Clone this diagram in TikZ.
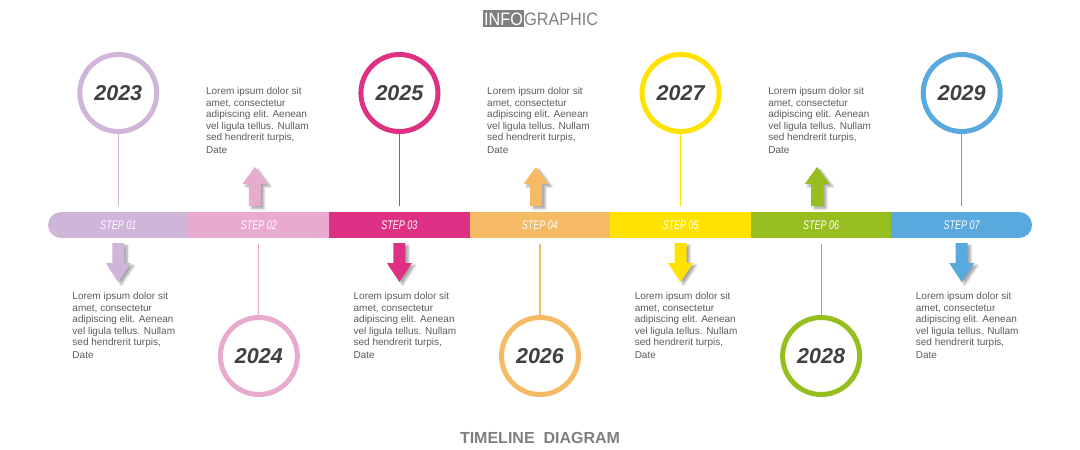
\documentclass[tikz,border=0pt]{standalone}
\usepackage{fontspec}
\setmainfont{Liberation Sans}
\newfontfamily\stepfont[FakeStretch=0.72]{Liberation Sans}
\newfontfamily\headfont[FakeStretch=0.9]{Liberation Sans}
\usetikzlibrary{shadows.blur}
\definecolor{c1}{HTML}{CFB6D9}
\definecolor{c2}{HTML}{E8AACF}
\definecolor{c3}{HTML}{DF3184}
\definecolor{c4}{HTML}{F5BA63}
\definecolor{c5}{HTML}{FFE200}
\definecolor{c6}{HTML}{97BE1F}
\definecolor{c7}{HTML}{59A9DF}
\definecolor{txtgray}{HTML}{5B5B5B}
\definecolor{yeargray}{HTML}{404040}
\definecolor{headgray}{HTML}{7F7F7F}
\newcommand\loremtext{Lorem ipsum dolor sit\\amet, consectetur\\adipiscing elit. Aenean\\vel ligula tellus. Nullam\\sed hendrerit turpis,\\[1.5pt]Date}
\begin{document}
\begin{tikzpicture}[x=1pt,y=-1pt,
  seg/.style={rectangle, minimum width=141pt, minimum height=26pt, inner sep=0pt,
    text=white, font=\stepfont\itshape\fontsize{12.5}{12.5}\selectfont},
  yearring/.style={circle, draw=#1, fill=white, line width=5pt, minimum size=77pt, inner sep=0pt,
    text=yeargray, font=\bfseries\itshape\fontsize{21.5}{21.5}\selectfont},
  conn/.style={draw=#1, line width=1.2pt},
  arrowshape/.style={fill=#1, blur shadow={shadow xshift=3pt, shadow yshift=-2.5pt, shadow blur steps=6, shadow opacity=35}},
  lorem/.style={anchor=north west, align=left, inner sep=0pt, text=txtgray,
    font=\fontsize{10}{11.5}\selectfont},
]
\useasboundingbox (0,0) rectangle (1080,450);

% header
\node[fill=headgray, text=white, inner xsep=1pt, inner ysep=2pt, anchor=base west,
  font=\headfont\fontsize{18}{18}\selectfont] (info) at (483,25) {INFO};
\node[anchor=base west, inner sep=0pt, text=headgray,
  font=\headfont\fontsize{18}{18}\selectfont] (graphic) at (info.base east) {GRAPHIC};

% bar
\begin{scope}
\clip[rounded corners=13pt] (48,212) rectangle (1032,238);
\foreach \i in {1,...,7}{
  \node[seg, fill=c\i] (s\i) at ({48+140.571*(\i-0.5)},225) {STEP 0\i};
}
\end{scope}

% circles and connectors
\foreach \i/\yr in {1/2023,3/2025,5/2027,7/2029}{
  \node[yearring=c\i] (y\i) at ({48+140.571*(\i-0.5)},93) {\yr};
  \draw[conn=c\i, shorten >=6pt] (y\i) -- (s\i);
}
\foreach \i/\yr in {2/2024,4/2026,6/2028}{
  \node[yearring=c\i] (y\i) at ({48+140.571*(\i-0.5)},356) {\yr};
  \draw[conn=c\i, shorten <=6pt] (s\i) -- (y\i);
}

% down arrows (odd steps)
\foreach \i in {1,3,5,7}{
  \pgfmathsetmacro{\cx}{48+140.571*(\i-0.5)}
  \path[arrowshape=c\i] (\cx-6,243) -- (\cx-6,263) -- (\cx-12.5,263) -- (\cx,282)
    -- (\cx+12.5,263) -- (\cx+6,263) -- (\cx+6,243) -- cycle;
  \node[lorem] (t\i) at (\cx-46,292.5) {\loremtext};
}
% up arrows (even steps)
\foreach \i in {2,4,6}{
  \pgfmathsetmacro{\cx}{48+140.571*(\i-0.5)-4}
  \path[arrowshape=c\i] (\cx-6,206) -- (\cx-6,184) -- (\cx-12.5,184) -- (\cx,167)
    -- (\cx+12.5,184) -- (\cx+6,184) -- (\cx+6,206) -- cycle;
  \node[lorem] (t\i) at (\cx-49,87.5) {\loremtext};
}

% footer
\node[text=headgray, font=\bfseries\fontsize{16}{16}\selectfont] (title) at (540,438) {TIMELINE~~DIAGRAM};
\end{tikzpicture}
\end{document}
